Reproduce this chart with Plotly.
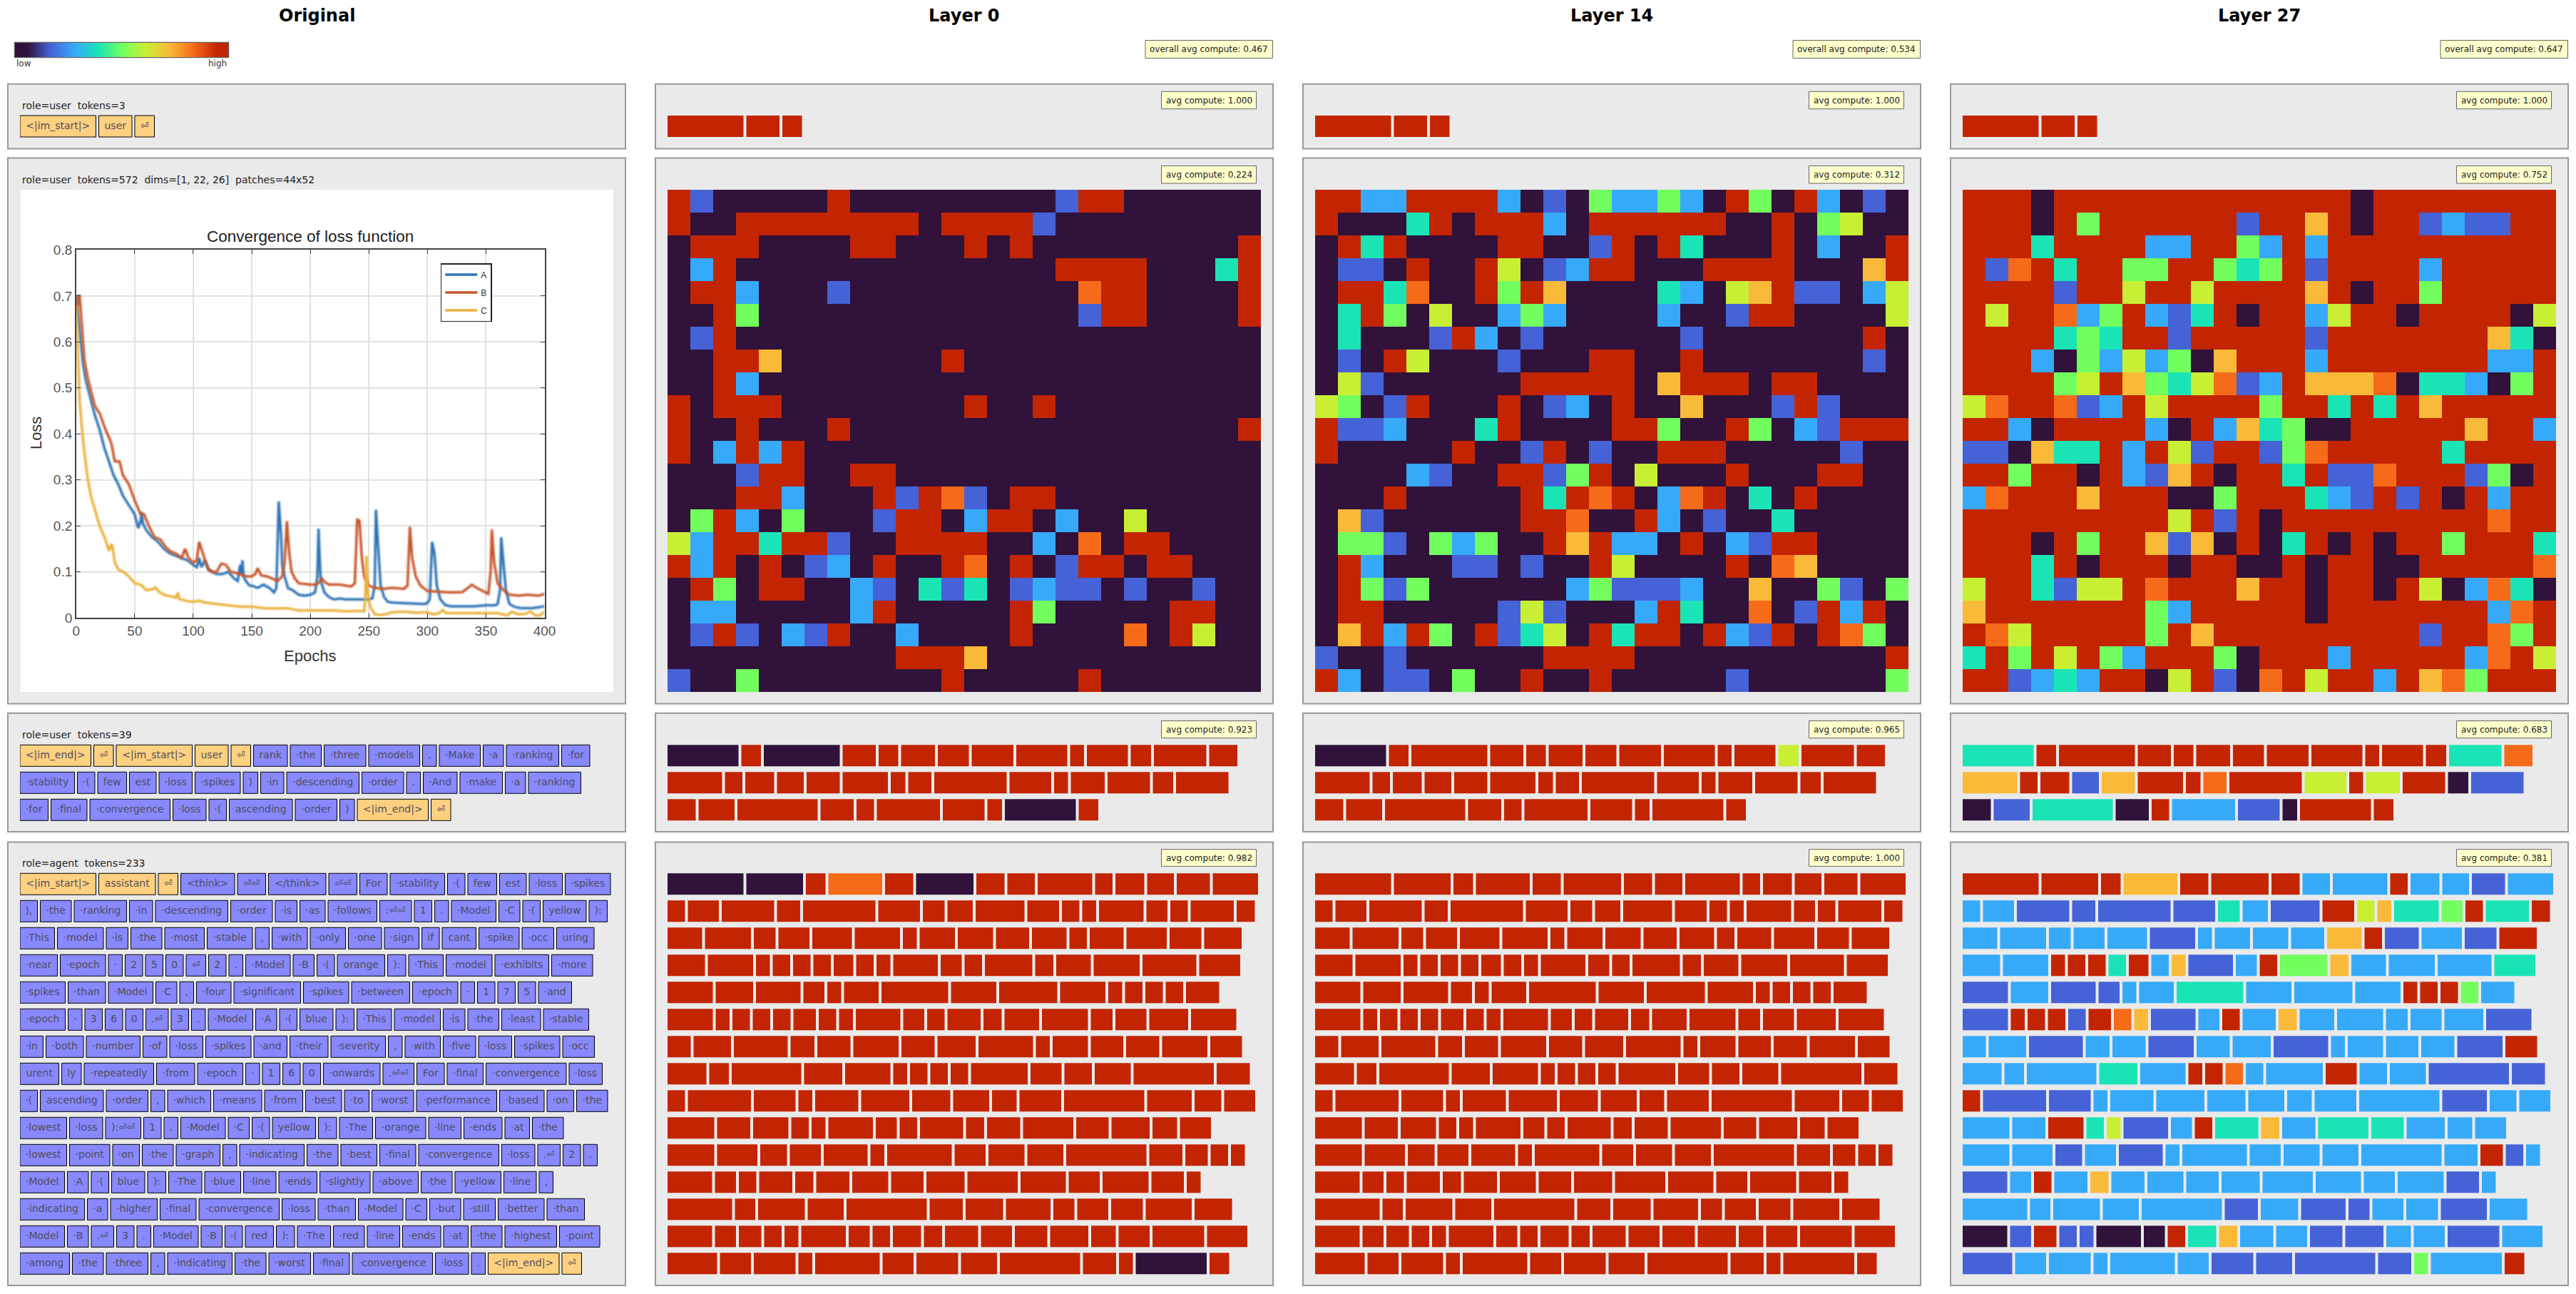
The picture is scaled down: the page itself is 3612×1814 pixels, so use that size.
import plotly.graph_objects as go

W, H = 3612, 1814

# compute levels: 0 = low ... 8 = high
LEVEL_COLORS = ["#30123b", "#4662d7", "#36aaf9", "#1ae4b6", "#72fe5e", "#c8ef34", "#faba39", "#f66b19", "#c32503"]
COLORBAR_LEVELS = [0, 1, 2, 3, 4, 5, 6, 7, 8]

COLUMN_TITLES = ["Original", "Layer 0", "Layer 14", "Layer 27"]
OVERALL_AVG = ["overall avg compute: 0.467", "overall avg compute: 0.534", "overall avg compute: 0.647"]
PANEL_AVG = [
    ["avg compute: 1.000", "avg compute: 0.224", "avg compute: 0.923", "avg compute: 0.982"],
    ["avg compute: 1.000", "avg compute: 0.312", "avg compute: 0.965", "avg compute: 1.000"],
    ["avg compute: 1.000", "avg compute: 0.752", "avg compute: 0.683", "avg compute: 0.381"],
]
ROLE_LABELS = [
    "role=user\u00a0\u00a0tokens=3",
    "role=user\u00a0\u00a0tokens=572\u00a0\u00a0dims=[1, 22, 26]\u00a0\u00a0patches=44x52",
    "role=user\u00a0\u00a0tokens=39",
    "role=agent\u00a0\u00a0tokens=233",
]

TOKENS_A = [["<|im_start|>", "user", "⏎"]]
TOKENS_C = [
    ["<|im_end|>", "⏎", "<|im_start|>", "user", "⏎", "rank", "·the", "·three", "·models", ".", "·Make", "·a", "·ranking", "·for"],
    ["·stability", "·(", "few", "est", "·loss", "·spikes", ")", "·in", "·descending", "·order", ".", "·And", "·make", "·a", "·ranking"],
    ["·for", "·final", "·convergence", "·loss", "·(", "ascending", "·order", ")", "<|im_end|>", "⏎"],
]
TOKENS_D = [
    ["<|im_start|>", "assistant", "⏎", "<think>", "⏎⏎", "</think>", "⏎⏎", "For", "·stability", "·(", "few", "est", "·loss", "·spikes"],
    ["),", "·the", "·ranking", "·in", "·descending", "·order", "·is", "·as", "·follows", ":⏎⏎", "1", ".", "·Model", "·C", "·(", "yellow", "):"],
    ["·This", "·model", "·is", "·the", "·most", "·stable", ",", "·with", "·only", "·one", "·sign", "if", "cant", "·spike", "·occ", "uring"],
    ["·near", "·epoch", "·", "2", "5", "0", "⏎", "2", ".", "·Model", "·B", "·(", "orange", "):", "·This", "·model", "·exhibits", "·more"],
    ["·spikes", "·than", "·Model", "·C", ",", "·four", "·significant", "·spikes", "·between", "·epoch", "·", "1", "7", "5", "·and"],
    ["·epoch", "·", "3", "6", "0", ".⏎", "3", ".", "·Model", "·A", "·(", "blue", "):", "·This", "·model", "·is", "·the", "·least", "·stable"],
    ["·in", "·both", "·number", "·of", "·loss", "·spikes", "·and", "·their", "·severity", ",", "·with", "·five", "·loss", "·spikes", "·occ"],
    ["urent", "ly", "·repeatedly", "·from", "·epoch", "·", "1", "6", "0", "·onwards", ".⏎⏎", "For", "·final", "·convergence", "·loss"],
    ["·(", "ascending", "·order", ",", "·which", "·means", "·from", "·best", "·to", "·worst", "·performance", "·based", "·on", "·the"],
    ["·lowest", "·loss", "):⏎⏎", "1", ".", "·Model", "·C", "·(", "yellow", "):", "·The", "·orange", "·line", "·ends", "·at", "·the"],
    ["·lowest", "·point", "·on", "·the", "·graph", ",", "·indicating", "·the", "·best", "·final", "·convergence", "·loss", ".⏎", "2", "."],
    ["·Model", "·A", "·(", "blue", "):", "·The", "·blue", "·line", "·ends", "·slightly", "·above", "·the", "·yellow", "·line", ","],
    ["·indicating", "·a", "·higher", "·final", "·convergence", "·loss", "·than", "·Model", "·C", "·but", "·still", "·better", "·than"],
    ["·Model", "·B", ".⏎", "3", ".", "·Model", "·B", "·(", "red", "):", "·The", "·red", "·line", "·ends", "·at", "·the", "·highest", "·point"],
    ["·among", "·the", "·three", ",", "·indicating", "·the", "·worst", "·final", "·convergence", "·loss", ".", "<|im_end|>", "⏎"],
]
# tokens shown in orange on the Original column, (row, index)
SPECIAL_A = [(0, 0), (0, 1), (0, 2)]
SPECIAL_C = [(0, 0), (0, 1), (0, 2), (0, 3), (0, 4), (2, 8), (2, 9)]
SPECIAL_D = [(0, 0), (0, 1), (0, 2), (14, 11), (14, 12)]

LEVELS_A = ["888"]

LAYER0_IMAGE = [
    "81000008000000000188000000", "80088888888088881000000000", "08880000880008080000000008",
    "02800000000000000888800038", "08820001000000000078800008", "00840000000000000018800008",
    "01800000000000000000000000", "00886000000080000000000000", "00820000000000000000000000",
    "80888000000008008000000000", "80080008000000000000000008", "80282800000000000000000000",
    "00018800880000000000000000", "00088200081871088000000000", "04820400018802880200500000",
    "52883881008888002070880000", "82808012080087080188088000", "08408800210313012110100100",
    "02200000280000084000008800", "01810218002000080000708500", "00000000008886000000000000",
    "10040000000080000080000000",
]
LAYER14_IMAGE = [
    "88228888201042242084082010", "80003808882088888800804500", "08380000880018083000802008",
    "01108008501288000888800068", "08837008486000032056811025", "03840500242000020018800005",
    "03000182010000001000000080", "01085000100088008000000010", "05100000088888068880880000",
    "54018000801208006000181000", "81120003800008840084021888", "80000080018010088800000100",
    "00002100881480500080008800", "00080000083878027803080000", "06100000088700820100300000",
    "04410424008682208021880000", "08200011010085000080760000", "08414000000241112006004104",
    "08800000151000283007018280", "06828408135083880821808740", "10010000008888000000000008",
    "82011040080080000010000004",
]
LAYER27_IMAGE = [
    "88808888888888888088888888", "88808488888818868088121188", "88838888228842828888888888",
    "81783884488434818888288888", "88881885885888868088488888", "85887248213808825880888805",
    "88883438818888818888888630", "88820425240688828888888228", "88884586435712866670332048",
    "57887128588884883838688888", "88208888208263400888886882", "11063382851881478888838888",
    "88488082168088381178881408", "27888688800488832181808288", "88888888858180888888888788",
    "88808488616080380808848883", "88838088808800808800888887", "58831558788868808808502730",
    "68888888428888808888888278", "87588888486888888888188748", "38485842888408882888882785",
    "88123288058107858828674888",
]

LAYER0_C = ["08088888888888", "888888888888888", "8888888808"]
LAYER14_C = ["08888888888588", "888888888888888", "8888888888"]
LAYER27_C = ["38888888888837", "688168878585801", "0130821088"]

LAYER0_D = [
    "00878088888888", "88888888888888888", "8888888888888888", "888888888888888888", "888888888888888",
    "8888888888888888888", "888888888888888", "888888888888888", "88888888888888", "8888888888888888",
    "888888888888888", "888888888888888", "8888888888888", "888888888888888888", "8888888888808",
]
LAYER14_D = [
    "88888888888888", "88888888888888888", "8888888888888888", "888888888888888888", "888888888888888",
    "8888888888888888888", "888888888888888", "888888888888888", "88888888888888", "8888888888888888",
    "888888888888888", "888888888888888", "8888888888888", "888888888888888888", "8888888888888",
]
LAYER27_D = [
    "88868882282212", "22111132185634838", "2222212222681218", "228883826128462223", "121122322288842",
    "1888187612826222221", "221221221222218", "222328872282211", "81122222222122", "2283512836233222",
    "221212222222812", "128262222222212", "2222212112212", "018110083622112212", "1222221111428",
]

IMAGE_LEVELS = [LAYER0_IMAGE, LAYER14_IMAGE, LAYER27_IMAGE]
C_LEVELS = [LAYER0_C, LAYER14_C, LAYER27_C]
D_LEVELS = [LAYER0_D, LAYER14_D, LAYER27_D]

# loss curves
EPOCHS_A = [0, 2, 4, 6, 8, 10, 13, 16, 20, 24, 28, 32, 36, 40, 45, 50, 53, 55, 56, 57, 60, 65, 70, 75, 80, 85, 90, 95, 100, 103, 105, 107, 110, 113, 116, 120, 125, 130, 135, 138, 140, 141, 142, 143, 145, 148, 150, 155, 160, 165, 169, 171, 173, 175, 176, 178, 181, 185, 190, 195, 200, 204, 206, 207, 208, 209, 212, 216, 220, 225, 230, 240, 250, 253, 255, 256, 258, 260, 263, 266, 270, 280, 290, 297, 300, 302, 304, 306, 308, 311, 315, 320, 330, 340, 350, 358, 360, 362, 363, 365, 367, 370, 375, 380, 390, 400]
LOSS_A = [.70, .65, .60, .55, .52, .50, .47, .44, .41, .37, .34, .31, .29, .265, .245, .225, .195, .21, .23, .205, .19, .175, .165, .15, .14, .135, .13, .125, .115, .11, .13, .11, .125, .105, .10, .095, .095, .10, .085, .08, .115, .095, .125, .09, .08, .07, .07, .065, .072, .065, .055, .065, .253, .18, .114, .09, .064, .06, .05, .048, .05, .055, .09, .194, .13, .08, .055, .045, .04, .042, .04, .04, .04, .042, .07, .235, .14, .07, .045, .035, .033, .032, .03, .03, .032, .04, .165, .14, .07, .04, .028, .025, .025, .025, .027, .027, .03, .06, .175, .12, .06, .03, .023, .021, .021, .025]
EPOCHS_B = [0, 2, 3, 5, 7, 10, 13, 16, 20, 25, 30, 33, 37, 40, 45, 50, 55, 58, 62, 67, 72, 76, 80, 85, 90, 93, 96, 100, 103, 105, 107, 110, 113, 116, 120, 124, 128, 132, 136, 140, 145, 150, 153, 155, 158, 163, 168, 172, 176, 178, 180, 182, 184, 187, 190, 195, 200, 205, 208, 210, 212, 216, 225, 235, 238, 240, 242, 244, 246, 250, 255, 262, 270, 280, 283, 285, 287, 290, 294, 300, 310, 320, 330, 335, 338, 342, 348, 352, 354, 355, 357, 360, 365, 370, 378, 385, 395, 400]
LOSS_B = [.66, .70, .70, .62, .56, .52, .49, .46, .445, .41, .38, .34, .34, .31, .29, .255, .225, .225, .20, .175, .17, .155, .145, .14, .13, .15, .13, .12, .125, .165, .15, .125, .105, .10, .10, .118, .115, .10, .098, .095, .09, .09, .095, .108, .092, .09, .085, .08, .09, .12, .21, .14, .10, .085, .075, .073, .072, .072, .078, .085, .078, .072, .072, .068, .075, .215, .21, .13, .09, .07, .065, .063, .065, .063, .07, .198, .13, .09, .07, .058, .057, .055, .056, .065, .072, .065, .058, .052, .10, .192, .12, .075, .06, .05, .048, .05, .048, .052]
EPOCHS_C = [0, 1, 2, 3, 5, 7, 10, 13, 16, 20, 25, 28, 30, 31, 33, 36, 40, 45, 50, 55, 60, 65, 68, 70, 75, 80, 85, 87, 88, 90, 95, 100, 105, 110, 120, 130, 140, 150, 160, 170, 180, 190, 200, 210, 220, 230, 240, 246, 247, 248, 249, 250, 252, 255, 260, 265, 270, 280, 290, 300, 305, 310, 313, 316, 320, 330, 340, 350, 360, 365, 368, 372, 378, 384, 388, 392, 396, 400]
LOSS_C = [.68, .60, .52, .47, .41, .36, .30, .26, .235, .20, .17, .145, .16, .155, .12, .105, .10, .09, .075, .072, .06, .062, .066, .058, .05, .047, .044, .055, .04, .04, .036, .035, .037, .033, .03, .026, .024, .024, .021, .02, .021, .016, .016, .015, .016, .014, .015, .014, .05, .135, .06, .035, .02, .008, .006, .008, .012, .013, .011, .012, .007, .01, .017, .01, .01, .011, .01, .01, .01, .007, .005, .013, .007, .009, .014, .005, .005, .013]
CHART_X_TICKS = [0, 50, 100, 150, 200, 250, 300, 350, 400]
CHART_Y_TICKS = [0, .1, .2, .3, .4, .5, .6, .7, .8]
CHART_Y_LABELS = ["0", "0.1", "0.2", "0.3", "0.4", "0.5", "0.6", "0.7", "0.8"]

# DejaVu Sans advances at 14px, hinted to whole pixels
ADVANCE = {"·": 4, "!": 6, "(": 5, ")": 5, ",": 4, "-": 5, ".": 4, "/": 5, ":": 5, ";": 5, "<": 12, "=": 12, ">": 12, "_": 7, "|": 4, "⏎": 12,
           "a": 9, "b": 9, "c": 8, "d": 9, "e": 9, "f": 5, "g": 9, "h": 9, "i": 4, "j": 4, "k": 8, "l": 4, "m": 14, "n": 9, "o": 9, "p": 9, "q": 9,
           "r": 6, "s": 7, "t": 6, "u": 9, "v": 8, "w": 11, "x": 8, "y": 8, "z": 7, "A": 10, "B": 10, "C": 10, "F": 8, "M": 12, "T": 9}
TOKEN_PAD = 15.5
TOKEN_GAP = 4
ROW_PITCH = 38
TOKEN_H = 30

COL_LEFT = [10, 918, 1826, 2734]
COL_W = 868
FONT = "DejaVu Sans"
SCALE = [[i / 8, c] for i, c in enumerate(LEVEL_COLORS)]


def fx(px):
    return px / W


def fy(py):
    return 1 - py / H


def token_width(tok):
    return sum(ADVANCE.get(ch, 9) for ch in tok) + TOKEN_PAD


fig = go.Figure()
axes = {}
shapes = []
annotations = []
n_axes = 0


def new_axes(x0, x1, y0, y1, xrange, yrange, **kw):
    """Add one hidden axis pair covering a pixel rectangle, return the trace refs."""
    global n_axes
    n_axes += 1
    n = n_axes
    ax = dict(visible=False, fixedrange=True)
    axes[f"xaxis{n}"] = dict(ax, domain=[fx(x0), fx(x1)], range=xrange, anchor=f"y{n}", **kw)
    axes[f"yaxis{n}"] = dict(ax, domain=[fy(y1), fy(y0)], range=yrange, anchor=f"x{n}", **kw)
    return f"x{n}", f"y{n}"


def box(x0, y0, x1, y1, fill, line, width=1):
    shapes.append(dict(type="rect", xref="paper", yref="paper", x0=fx(x0), x1=fx(x1), y0=fy(y1), y1=fy(y0),
                       fillcolor=fill, line=dict(color=line, width=width), layer="below"))


def label(px, py, text, size=12, color="#222222", anchor="left", family=FONT, **kw):
    annotations.append(dict(x=fx(px), y=fy(py), xref="paper", yref="paper", text=text, showarrow=False,
                            xanchor=anchor, yanchor="middle", font=dict(family=family, size=size, color=color), **kw))


def token_rows(left, top, rows, levels=None, special=None):
    """Draw one block of token rows, as horizontal bars laid out from the token text."""
    n = len(rows)
    xref, yref = new_axes(left + 18, left + COL_W - 18, top - 4, top + ROW_PITCH * n - 4, [0, COL_W - 36], [n - 0.5, -0.5])
    ys, starts, widths, colors, mids, texts = [], [], [], [], [], []
    for r, row in enumerate(rows):
        pos = 0
        for i, tok in enumerate(row):
            w = token_width(tok)
            ys.append(r)
            starts.append(pos)
            widths.append(w)
            mids.append(pos + w / 2)
            texts.append(tok)
            if levels is not None:
                colors.append(int(levels[r][i]))
            else:
                colors.append("#ffd080" if (r, i) in special else "#8888ff")
            pos += w + TOKEN_GAP
    if levels is not None:
        marker = dict(color=colors, colorscale=SCALE, cmin=0, cmax=8, line=dict(width=0))
    else:
        marker = dict(color=colors, line=dict(color="#000000", width=1))
    fig.add_trace(go.Bar(y=ys, x=widths, base=starts, orientation="h", width=TOKEN_H / ROW_PITCH, marker=marker,
                         xaxis=xref, yaxis=yref, showlegend=False, hoverinfo="skip", cliponaxis=False))
    if levels is None:
        fig.add_trace(go.Scatter(x=mids, y=ys, text=texts, mode="text", textposition="middle center",
                                 textfont=dict(family=FONT, size=14, color="#4d4d5a"),
                                 xaxis=xref, yaxis=yref, showlegend=False, hoverinfo="skip", cliponaxis=False))


# panels and badges, column by column
PANEL_Y = [(116.7, 209.5), (220.6, 987.5), (998.7, 1167), (1179.5, 1803)]
BADGE_Y = [(128.3, 152.7), (232.5, 257), (1010.5, 1034.7), (1190.7, 1214.4)]
ROLE_Y = [148, 252, 1030, 1210]
TOKEN_TOPS = [162, 1044.3, 1224.3]

for c, left in enumerate(COL_LEFT):
    label(left + COL_W / 2, 22.5, f"<b>{COLUMN_TITLES[c]}</b>", size=24, color="#000000", anchor="center")
    for y0, y1 in PANEL_Y:
        box(left + 1, y0 + 1, left + COL_W - 1, y1 - 1, "#eaeaea", "#999999", 2)
    if c == 0:
        for p, py in enumerate(ROLE_Y):
            label(left + 18.5, py, ROLE_LABELS[p], size=14)
        continue
    box(left + 688, 56.5, left + 866.5, 81.5, "#ffffcc", "#666666")
    label(left + 777.3, 69, OVERALL_AVG[c - 1], anchor="center")
    for p, (y0, y1) in enumerate(BADGE_Y):
        box(left + 710.5, y0, left + 843.5, y1, "#ffffcc", "#666666")
        label(left + 777, (y0 + y1) / 2, PANEL_AVG[c - 1][p], anchor="center")

# Original column token blocks
token_rows(COL_LEFT[0], TOKEN_TOPS[0], TOKENS_A, special=SPECIAL_A)
token_rows(COL_LEFT[0], TOKEN_TOPS[1], TOKENS_C, special=SPECIAL_C)
token_rows(COL_LEFT[0], TOKEN_TOPS[2], TOKENS_D, special=SPECIAL_D)

# Layer columns
for c, left in enumerate(COL_LEFT[1:]):
    token_rows(left, TOKEN_TOPS[0], TOKENS_A, levels=LEVELS_A)
    token_rows(left, TOKEN_TOPS[1], TOKENS_C, levels=C_LEVELS[c])
    token_rows(left, TOKEN_TOPS[2], TOKENS_D, levels=D_LEVELS[c])
    xref, yref = new_axes(left + 18, left + 18 + 832, 266, 970, [-0.5, 25.5], [21.5, -0.5])
    fig.add_trace(go.Heatmap(z=[[int(v) for v in row] for row in IMAGE_LEVELS[c]], colorscale=SCALE, zmin=0, zmax=8,
                             showscale=False, xaxis=xref, yaxis=yref, hoverinfo="skip"))

# low/high colour ramp
xref, yref = new_axes(21, 320, 60, 80, [-0.5, 8.5], [-0.5, 0.5])
fig.add_trace(go.Heatmap(z=[COLORBAR_LEVELS], colorscale=SCALE, zmin=0, zmax=8, zsmooth="best", showscale=False,
                         xaxis=xref, yaxis=yref, hoverinfo="skip"))
box(20.5, 59.5, 320.5, 80.5, "rgba(0,0,0,0)", "#666666", 1.5)
label(20.7, 89, "low", color="#333333")
label(320, 89, "high", color="#333333", anchor="right")

# embedded picture of the loss chart
box(28.5, 266, 860, 970, "#ffffff", "#ffffff", 0)
n_axes += 1
cx, cy = f"x{n_axes}", f"y{n_axes}"
CHART_FONT = "Liberation Sans"
chart_axis = dict(showline=True, linecolor="#444444", linewidth=1.5, mirror="allticks", ticks="inside", ticklen=6,
                  tickcolor="#444444", gridcolor="#e2e2e2", gridwidth=1.5, zeroline=False, fixedrange=True,
                  tickfont=dict(family=CHART_FONT, size=19, color="#555555"))
axes[f"xaxis{n_axes}"] = dict(chart_axis, domain=[fx(106.8), fx(763.5)], range=[0, 400], tickvals=CHART_X_TICKS, anchor=cy)
axes[f"yaxis{n_axes}"] = dict(chart_axis, domain=[fy(866), fy(350.4)], range=[0, 0.8], tickvals=CHART_Y_TICKS,
                              ticktext=CHART_Y_LABELS, anchor=cx)
for name, xs, ys, color in [("A", EPOCHS_A, LOSS_A, "#2e75b6"), ("B", EPOCHS_B, LOSS_B, "#c9562b"), ("C", EPOCHS_C, LOSS_C, "#ecb03a")]:
    fig.add_trace(go.Scatter(x=xs, y=ys, mode="lines", name=name, legendgroup=name, line=dict(color=color, width=3.5),
                             xaxis=cx, yaxis=cy, hoverinfo="skip"))
label(434.5, 331.6, "Convergence of loss function", size=22.5, color="#222222", anchor="center", family=CHART_FONT)
label(434.5, 920, "Epochs", size=22, color="#333333", anchor="center", family=CHART_FONT)
label(50.5, 607.6, "Loss", size=22, color="#333333", anchor="center", family=CHART_FONT, textangle=-90)

fig.update_layout(
    width=W, height=H, autosize=False,
    margin=dict(l=0, r=0, t=0, b=0, autoexpand=False),
    paper_bgcolor="#ffffff", plot_bgcolor="rgba(0,0,0,0)",
    barmode="overlay",
    shapes=shapes, annotations=annotations,
    legend=dict(x=fx(617.7), y=fy(369), xanchor="left", yanchor="top", bgcolor="#ffffff", bordercolor="#222222", borderwidth=1.5,
                font=dict(family=CHART_FONT, size=12, color="#333333"), itemwidth=45, entrywidth=60, tracegroupgap=6),
    **axes,
)

# the embedded chart is a soft, upscaled picture in the reference, so its lines get a slight blur
post = ("document.body.style.margin='0';"
        f"document.querySelectorAll('.subplot.{cx}{cy} .scatterlayer .trace').forEach(function(t){{t.style.filter='blur(0.8px)';}});")
fig.write_html("out.html", config={"displayModeBar": False}, post_script=post)
